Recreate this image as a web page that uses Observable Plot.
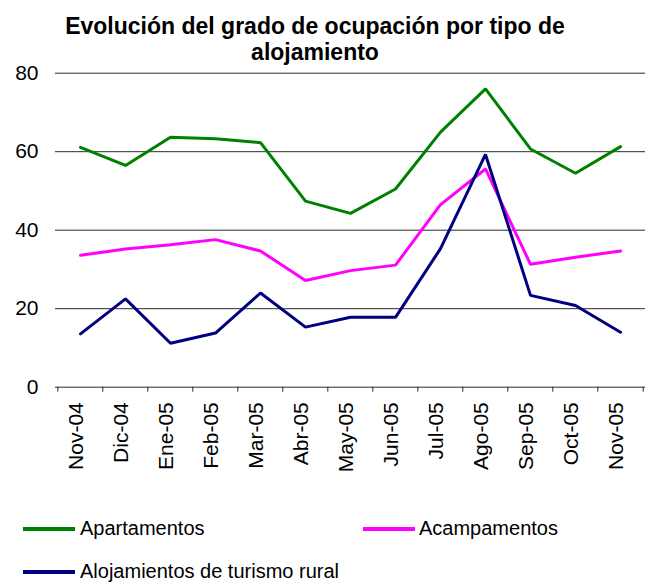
<!DOCTYPE html>
<html>
<head>
<meta charset="utf-8">
<script src="https://cdn.jsdelivr.net/npm/d3@7"></script>
<script src="https://cdn.jsdelivr.net/npm/@observablehq/plot@0.6"></script>
<style>
  html, body { margin: 0; padding: 0; background: #fff; }
  #wrap { position: relative; width: 652px; height: 585px; font-family: "Liberation Sans", Arial, sans-serif; color: #000; }
  #title { position: absolute; left: 0; top: 14px; width: 630px; text-align: center; font-weight: bold; font-size: 23px; line-height: 25.7px; }
  .leg { position: absolute; font-size: 20px; line-height: 20px; white-space: nowrap; }
  .sw { position: absolute; height: 4px; width: 52px; }
</style>
</head>
<body>
<div id="wrap">
  <div id="chart"></div>
  <div id="title">Evolución del grado de ocupación por tipo de<br>alojamiento</div>
  <div id="legend"></div>
</div>
<script>
const months = ["Nov-04","Dic-04","Ene-05","Feb-05","Mar-05","Abr-05","May-05","Jun-05","Jul-05","Ago-05","Sep-05","Oct-05","Nov-05"];
const apartamentos = [61.1,56.5,63.7,63.3,62.3,47.4,44.3,50.5,65.0,76.0,60.7,54.5,61.3];
const acampamentos = [33.6,35.2,36.3,37.6,34.7,27.2,29.7,31.1,46.5,55.6,31.3,33.1,34.7];
const rural = [13.6,22.5,11.2,13.8,24.0,15.3,17.8,17.8,35.3,59.3,23.4,20.8,14.0];
const seriesNames = ["Apartamentos","Acampamentos","Alojamientos de turismo rural"];
const seriesColors = ["#008000","#FF00FF","#000080"];
const yTicks = [0,20,40,60,80];

const seriesValues = [apartamentos, acampamentos, rural];
const rows = [];
seriesNames.forEach((name, s) => {
  months.forEach((m, i) => rows.push({series: name, month: m, value: seriesValues[s][i]}));
});

const W = 652, ML = 55, MR = 7;
const step = (W - ML - MR) / months.length;

const chart = Plot.plot({
  width: W,
  height: 500,
  marginLeft: ML,
  marginRight: MR,
  marginTop: 72.7,
  marginBottom: 113.3,
  style: {fontFamily: "'Liberation Sans', Arial, sans-serif", fontSize: "21px", color: "#000", background: "transparent"},
  x: {type: "point", domain: months, padding: 0.5, label: null},
  y: {domain: [0, 80], label: null},
  color: {domain: seriesNames, range: seriesColors},
  marks: [
    Plot.ruleY(yTicks.filter(d => d > 0), {stroke: "#2a2a2a", strokeWidth: 1}),
    Plot.ruleY([0], {stroke: "#2a2a2a", strokeWidth: 1}),
    Plot.ruleX(months, {x: d => d, y1: 0, y2: 0, dx: -step / 2, insetBottom: -5, stroke: "#2a2a2a"}),
    Plot.ruleX([months[months.length - 1]], {x: d => d, y1: 0, y2: 0, dx: step / 2, insetBottom: -5, stroke: "#2a2a2a"}),
    Plot.lineY(rows, {x: "month", y: "value", z: "series", stroke: "series", strokeWidth: 3, strokeLinejoin: "miter"}),
    Plot.axisY({ticks: yTicks, tickSize: 0, tickPadding: 17, fontSize: 21, label: null}),
    Plot.axisX({tickRotate: -90, tickSize: 0, tickPadding: 15, fontSize: 21, dx: -4, label: null})
  ]
});
document.getElementById("chart").appendChild(chart);

// legend
const legend = document.getElementById("legend");
const legPos = [
  {sx: 22.7, tx: 80, base: 535},
  {sx: 362.7, tx: 419, base: 535},
  {sx: 22.7, tx: 80, base: 578}
];
seriesNames.forEach((name, i) => {
  const p = legPos[i];
  const sw = document.createElement("div");
  sw.className = "sw";
  sw.style.left = p.sx + "px";
  sw.style.top = (p.base - 8) + "px";
  sw.style.background = seriesColors[i];
  legend.appendChild(sw);
  const t = document.createElement("div");
  t.className = "leg";
  t.style.left = p.tx + "px";
  t.style.top = (p.base - 17) + "px";
  t.textContent = name;
  legend.appendChild(t);
});
</script>
</body>
</html>
